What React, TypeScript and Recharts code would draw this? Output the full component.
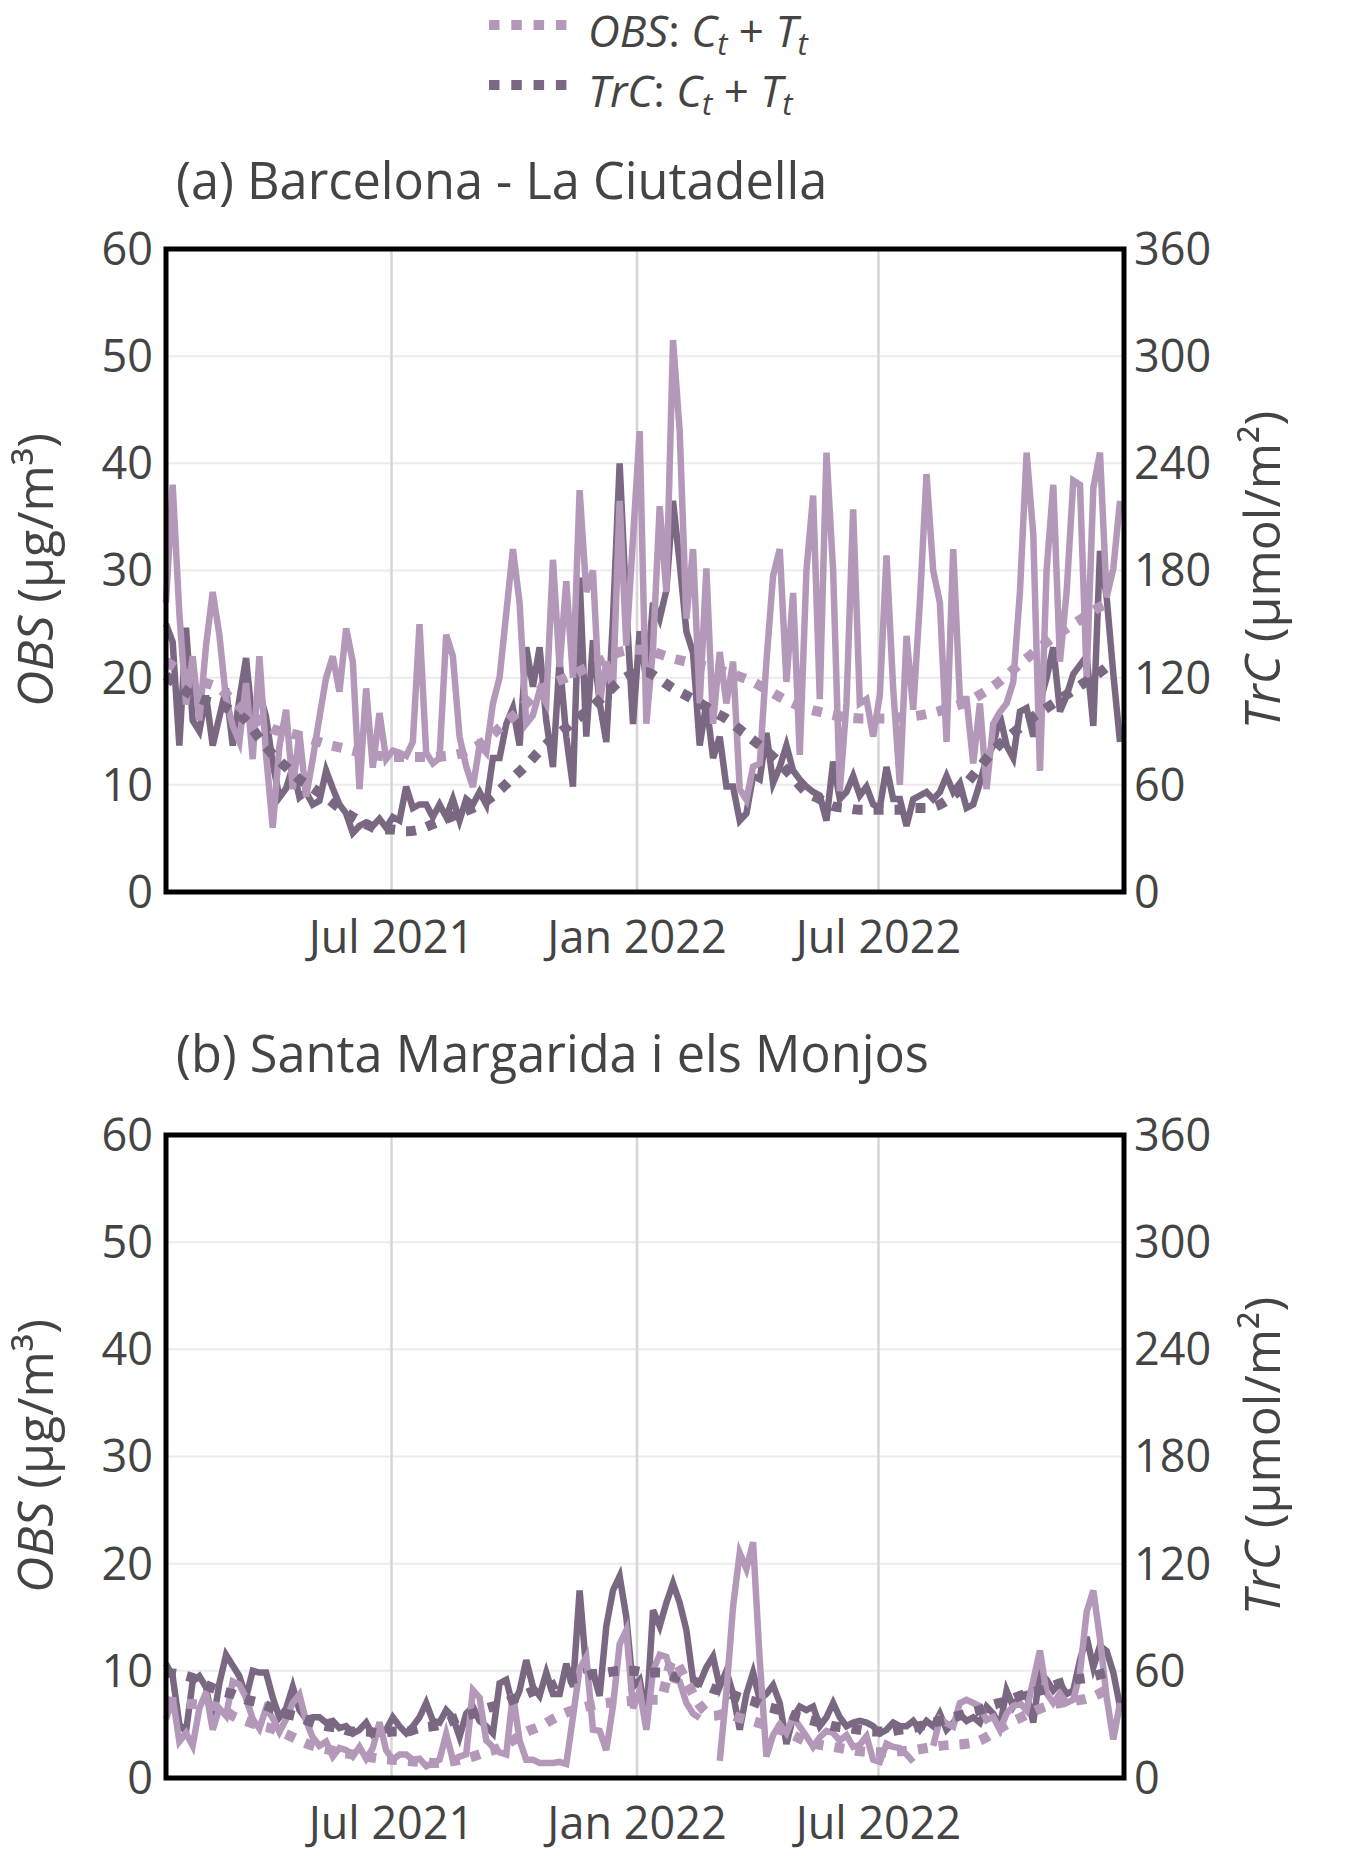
import { LineChart, Line, XAxis, YAxis, CartesianGrid } from 'recharts'

const DAY = 86400000
const START = Date.UTC(2021, 0, 13)
const END = START + 718 * DAY
const RAW_STEP = 5 // days between raw points
const TREND_STEP = 10 // days between trend points

const X_TICKS = [Date.UTC(2021, 6, 1), Date.UTC(2022, 0, 1), Date.UTC(2022, 6, 1)]
const X_LABELS = ['Jul 2021', 'Jan 2022', 'Jul 2022']
const OBS_TICKS = [0, 10, 20, 30, 40, 50, 60]
const TRC_TICKS = [0, 60, 120, 180, 240, 300, 360]

// (a) Barcelona - La Ciutadella, OBS in µg/m³
const OBS_A = [
  27, 38, 26, 17.5, 22, 16, 23, 28, 24, 18,
  15.5, 14, 19.5, 12.4, 22, 12.8, 6, 13.6, 17, 9.6,
  14.8, 8.9, 12.4, 16.3, 20, 22, 18.7, 24.6, 21.5, 9.6,
  19, 11.6, 16.7, 12.4, 13.2, 13, 12.7, 14, 25, 13,
  12, 12.5, 24, 22, 14.5, 11.7, 9.8, 13.7, 13, 17.6,
  20, 26, 32, 27, 15.7, 16.5, 18.8, 17.6, 31, 21,
  29, 20, 37.5, 28, 30, 17.6, 21.5, 18.8, 36.5, 23,
  33, 43, 15.7, 22.7, 36, 28, 51.5, 43, 25.5, 32,
  17.6, 30.2, 15.7, 22.4, 17.6, 21.5, 9.6, 8.6, 11.7, 12,
  21.5, 29.5, 32, 19.6, 27.9, 12.8, 30, 37, 18, 41,
  30, 9.4, 17.6, 35.7, 17.6, 18, 14.5, 18.4, 31.4, 19,
  10, 23.9, 17, 27, 39, 30, 27, 14, 32, 18,
  18, 12, 17.6, 9.6, 15.7, 16.8, 17.6, 19.6, 28, 41,
  33.4, 11.3, 30, 38, 21.5, 28, 38.4, 38, 20, 37.7,
  41, 27.5, 30.2, 36.5,
]

// TrC in µmol/m²
const TRC_A = [
  150, 140, 82, 148, 96, 90, 110, 82, 98, 114,
  82, 108, 131, 94, 112, 98, 72, 53, 58, 70,
  53, 56, 49, 51, 68, 58, 49, 44, 33, 37,
  39, 37, 41, 36, 42, 40, 59, 47, 49, 49,
  42, 49, 42, 52, 40, 52, 49, 56, 49, 75,
  75, 94, 103, 82, 137, 115, 137, 96, 70, 130,
  87, 59, 176, 87, 141, 106, 84, 153, 240, 160,
  94, 146, 118, 162, 153, 169, 219, 184, 146, 134,
  82, 106, 75, 87, 59, 59, 40, 44, 65, 63,
  89, 61, 70, 82, 68, 63, 59, 56, 54, 40,
  73, 52, 56, 65, 54, 59, 49, 47, 70, 52,
  52, 37, 52, 54, 56, 52, 56, 65, 56, 61,
  47, 49, 61, 75, 82, 99, 82, 75, 101, 103,
  87, 106, 120, 137, 101, 110, 122, 127, 132, 93,
  191, 165, 122, 84,
]

const OBS_TREND_A = [
  21.5, 20.7, 20, 19.5, 19, 17.9, 16.8, 16, 15.2, 14.9,
  14.6, 14.2, 13.8, 13.5, 13.2, 12.9, 12.7, 12.6, 12.6, 12.6,
  12.6, 12.7, 12.9, 13.4, 14.2, 15.3, 16.4, 17.6, 18.8, 19.5,
  20, 20.6, 21.2, 21.8, 22.4, 22.6, 22.6, 22.2, 21.8, 21.5,
  21.2, 20.9, 20.5, 20.1, 19.6, 18.9, 18.2, 17.6, 17.1, 16.8,
  16.5, 16.3, 16.2, 16.2, 16.2, 16.3, 16.4, 16.6, 16.9, 17.3,
  17.7, 18.4, 19.2, 20.2, 21.3, 22.3, 23.3, 24.2, 25, 25.8,
  26.6, 27.1,
]

const TRC_TREND_A = [
  121, 115, 110, 107, 105, 101, 96, 86, 77, 70,
  63, 58, 53, 47, 42, 38, 35, 35, 34, 35,
  38, 41, 44, 47, 51, 57, 64, 71, 79, 86,
  92, 98, 104, 111, 118, 122, 123, 119, 114, 110,
  106, 101, 97, 91, 85, 79, 72, 64, 56, 52,
  48, 47, 46, 46, 46, 46, 47, 47, 49, 54,
  61, 70, 79, 86, 92, 98, 103, 108, 113, 118,
  123, 129,
]

// (b) Santa Margarida i els Monjos
const OBS_B = [
  5.5, 7.5, 3.4, 4.2, 3.0, 6.5, 8, 4.5, 6.5, 5.8,
  9, 8.7, 7.5, 5.5, 4.6, 6.5, 5.6, 4.3, 5.5, 7,
  7.8, 5.3, 3.8, 3, 3.4, 2, 2.8, 2.6, 2, 2.9,
  1.8, 2.8, 5.2, 2.6, 1.7, 2.2, 2.2, 1.7, 1.8, 1.1,
  1.4, 1.7, 4.1, 1.7, 2, 2.2, 8.2, 7.5, 3.5, 2.9,
  2.4, 2.2, 7.8, 3.5, 1.7, 1.7, 1.4, 1.4, 1.4, 1.5,
  1.3, 5.7, 10.2, 11.3, 4.5, 4.4, 2.6, 6.7, 12.5, 13.8,
  6.5, 8.2, 4.5, 10, 11.5, 11.3, 9.2, 9, 7, 6,
  5.6, null, null, 1.6, 8, 16, 21, 19.5, 22, 11,
  2, 4, 5, 4.2, 5.7, 4.8, 3.9, 2.9, 3.8, 4.4,
  4.2, 3.5, 4, 2.9, 3.1, 3.9, 1.7, 1.5, 3.2, 2.9,
  2.8, 2.2, 1.5, null, null, 3, 5.5, 5.1, 4.8, 7,
  7.3, 7, 6.7, 5.4, 5.7, 4.5, 6, 6.7, 7, 6.3,
  9.1, 11.9, 7.9, 7, 7.9, 7, 7.3, 9.8, 15.5, 17.5,
  13, 7.5, 3.6, 7,
]

const TRC_B = [
  64, 57, 30, 26, 54, 57, 51, 30, 53, 69,
  63, 57, 45, 60, 59, 59, 45, 34, 39, 51,
  38, 33, 34, 34, 31, 32, 28, 29, 25, 27,
  31, 24, 25, 27, 34, 29, 25, 29, 34, 42,
  32, 31, 38, 34, 23, 36, 40, 32, 29, 25,
  53, 55, 40, 49, 66, 51, 46, 59, 47, 47,
  64, 51, 105, 60, 59, 46, 85, 105, 113, 90,
  51, 55, 34, 94, 85, 98, 109, 98, 83, 55,
  53, 62, 68, 51, 60, 47, 27, 47, 59, 44,
  47, 52, 42, 19, 34, 40, 38, 40, 29, 34,
  42, 34, 29, 31, 32, 31, 29, 25, 27, 31,
  29, 29, 32, 27, 32, 29, 36, 27, 31, 36,
  32, 34, 31, 40, 36, 29, 49, 40, 46, 47,
  31, 59, 55, 49, 53, 47, 49, 66, 79, 62,
  74, 71, 59, 40,
]

const OBS_TREND_B = [
  7.2, 7, 6.9, 6.8, 6.6, 5.8, 5.3, 4.9, 4.6, 4.1,
  3.5, 3, 2.7, 2.4, 2.2, 2, 1.8, 1.7, 1.6, 1.5,
  1.4, 1.5, 1.7, 2, 2.4, 2.8, 3.5, 4.3, 4.8, 5.5,
  6.1, 6.5, 6.8, 7, 7.1, 7.2, 7.3, 7.3, 11, 9,
  6.8, 5.8, 6, 5.6, 5.3, 4.9, 4.5, 4, 3.4, 3.1,
  2.9, 2.7, 2.5, 2.4, 2.4, 2.5, 2.6, 2.8, 3, 3.1,
  3.2, 3.5, 4.2, 5, 5.6, 6.2, 6.7, 7, 7.2, 7.4,
  7.9, 8.8,
]

const TRC_TREND_B = [
  59, 58, 56, 52, 49, 47, 44, 42, 39, 36,
  34, 31, 29, 28, 26, 26, 25, 26, 26, 28,
  29, 31, 34, 36, 39, 41, 44, 47, 50, 52,
  55, 56, 58, 59, 60, 60, 59, 59, 57, 55,
  53, 50, 48, 45, 43, 40, 38, 35, 33, 31,
  29, 28, 27, 26, 26, 27, 28, 30, 32, 34,
  36, 38, 41, 43, 46, 48, 50, 53, 55, 56,
  58, 60,
]

const LIGHT = '#b498b9'
const DARK = '#7a6882'
const TEXT = '#444'
const FONT = "'Open Sans', sans-serif"

// plot area, shared by both panels
const PLOT_LEFT = 166
const PLOT_W = 958
const PLOT_H = 643

const toSeries = (values: (number | null)[], step: number) =>
  values.map((v, i) => ({ t: START + i * step * DAY, v }))

const fmtX = (t: number) => X_LABELS[X_TICKS.indexOf(t)] ?? ''

const tickStyle = { fontSize: 45, fill: TEXT, fontFamily: FONT }

interface PanelProps {
  top: number
  height: number
  marginTop: number
  obs: (number | null)[]
  trc: (number | null)[]
  obsTrend: number[]
  trcTrend: number[]
}

function Panel({ top, height, marginTop, obs, trc, obsTrend, trcTrend }: PanelProps) {
  return (
    <div style={{ position: 'absolute', left: 0, top, width: 1348, height }}>
      <LineChart width={1348} height={height} margin={{ top: marginTop, right: 0, bottom: 0, left: 0 }}>
        <CartesianGrid yAxisId="obs" vertical={false} stroke="#ebebeb" strokeWidth={2} />
        <CartesianGrid yAxisId="obs" horizontal={false} stroke="#d6d6d6" strokeWidth={2.5} />
        <XAxis
          dataKey="t"
          type="number"
          domain={[START, END]}
          ticks={X_TICKS}
          interval={0}
          tickFormatter={fmtX}
          height={height - marginTop - PLOT_H}
          tickSize={0}
          tickMargin={29}
          tickLine={false}
          axisLine={false}
          tick={tickStyle}
        />
        <YAxis
          yAxisId="obs"
          domain={[0, 60]}
          ticks={OBS_TICKS}
          interval={0}
          width={PLOT_LEFT}
          tickSize={0}
          tickMargin={13}
          tickLine={false}
          axisLine={false}
          tick={tickStyle}
        />
        <YAxis
          yAxisId="trc"
          orientation="right"
          domain={[0, 360]}
          ticks={TRC_TICKS}
          interval={0}
          width={1348 - PLOT_LEFT - PLOT_W}
          tickSize={0}
          tickMargin={10}
          tickLine={false}
          axisLine={false}
          tick={tickStyle}
        />
        <Line
          yAxisId="trc"
          data={toSeries(trc, RAW_STEP)}
          dataKey="v"
          type="linear"
          stroke={DARK}
          strokeWidth={6.5}
          dot={false}
          isAnimationActive={false}
        />
        <Line
          yAxisId="obs"
          data={toSeries(obs, RAW_STEP)}
          dataKey="v"
          type="linear"
          stroke={LIGHT}
          strokeWidth={6.5}
          dot={false}
          isAnimationActive={false}
        />
        <Line
          yAxisId="trc"
          data={toSeries(trcTrend, TREND_STEP)}
          dataKey="v"
          type="monotone"
          stroke={DARK}
          strokeWidth={10}
          strokeDasharray="10 11"
          dot={false}
          isAnimationActive={false}
        />
        <Line
          yAxisId="obs"
          data={toSeries(obsTrend, TREND_STEP)}
          dataKey="v"
          type="monotone"
          stroke={LIGHT}
          strokeWidth={10}
          strokeDasharray="10 11"
          dot={false}
          isAnimationActive={false}
        />
      </LineChart>
    </div>
  )
}

function LegendEntry({ y, color, name }: { y: number; color: string; name: string }) {
  return (
    <g>
      <line x1={489} x2={568} y1={y - 22} y2={y - 22} stroke={color} strokeWidth={10} strokeDasharray="10.5 11.8" />
      <text x={588} y={y} fontSize={44} fill={TEXT} fontFamily={FONT}>
        <tspan fontStyle="italic">{name}</tspan>
        <tspan>: </tspan>
        <tspan fontStyle="italic">C</tspan>
        <tspan fontStyle="italic" fontSize={31} dy={8}>t</tspan>
        <tspan dy={-8}> + </tspan>
        <tspan fontStyle="italic">T</tspan>
        <tspan fontStyle="italic" fontSize={31} dy={8}>t</tspan>
      </text>
    </g>
  )
}

function AxisTitles({ cy }: { cy: number }) {
  return (
    <g fontFamily={FONT} fontSize={50} fill={TEXT}>
      <text x={53} y={cy} textAnchor="middle" transform={`rotate(-90 53 ${cy})`}>
        <tspan fontStyle="italic">OBS</tspan>
        <tspan> (μg/m³)</tspan>
      </text>
      <text x={1280} y={cy} textAnchor="middle" transform={`rotate(-90 1280 ${cy})`}>
        <tspan fontStyle="italic">TrC</tspan>
        <tspan> (μmol/m²)</tspan>
      </text>
    </g>
  )
}

function Frame({ top }: { top: number }) {
  return <rect x={PLOT_LEFT} y={top} width={PLOT_W} height={PLOT_H} fill="none" stroke="#000" strokeWidth={5} />
}

export default function App() {
  return (
    <div style={{ position: 'absolute', left: 0, top: 0, width: 1348, height: 1875, background: '#fff', fontFamily: FONT }}>
      <Panel top={0} height={980} marginTop={249} obs={OBS_A} trc={TRC_A} obsTrend={OBS_TREND_A} trcTrend={TRC_TREND_A} />
      <Panel top={900} height={975} marginTop={235} obs={OBS_B} trc={TRC_B} obsTrend={OBS_TREND_B} trcTrend={TRC_TREND_B} />
      <svg width={1348} height={1875} style={{ position: 'absolute', left: 0, top: 0, pointerEvents: 'none' }}>
        <Frame top={249} />
        <Frame top={1135} />
        <LegendEntry y={47} color={LIGHT} name="OBS" />
        <LegendEntry y={107} color={DARK} name="TrC" />
        <text x={176} y={199} fontSize={50.5} fill={TEXT} fontFamily={FONT}>(a) Barcelona - La Ciutadella</text>
        <text x={176} y={1072} fontSize={50.5} fill={TEXT} fontFamily={FONT}>(b) Santa Margarida i els Monjos</text>
        <AxisTitles cy={570} />
        <AxisTitles cy={1456} />
      </svg>
    </div>
  )
}
